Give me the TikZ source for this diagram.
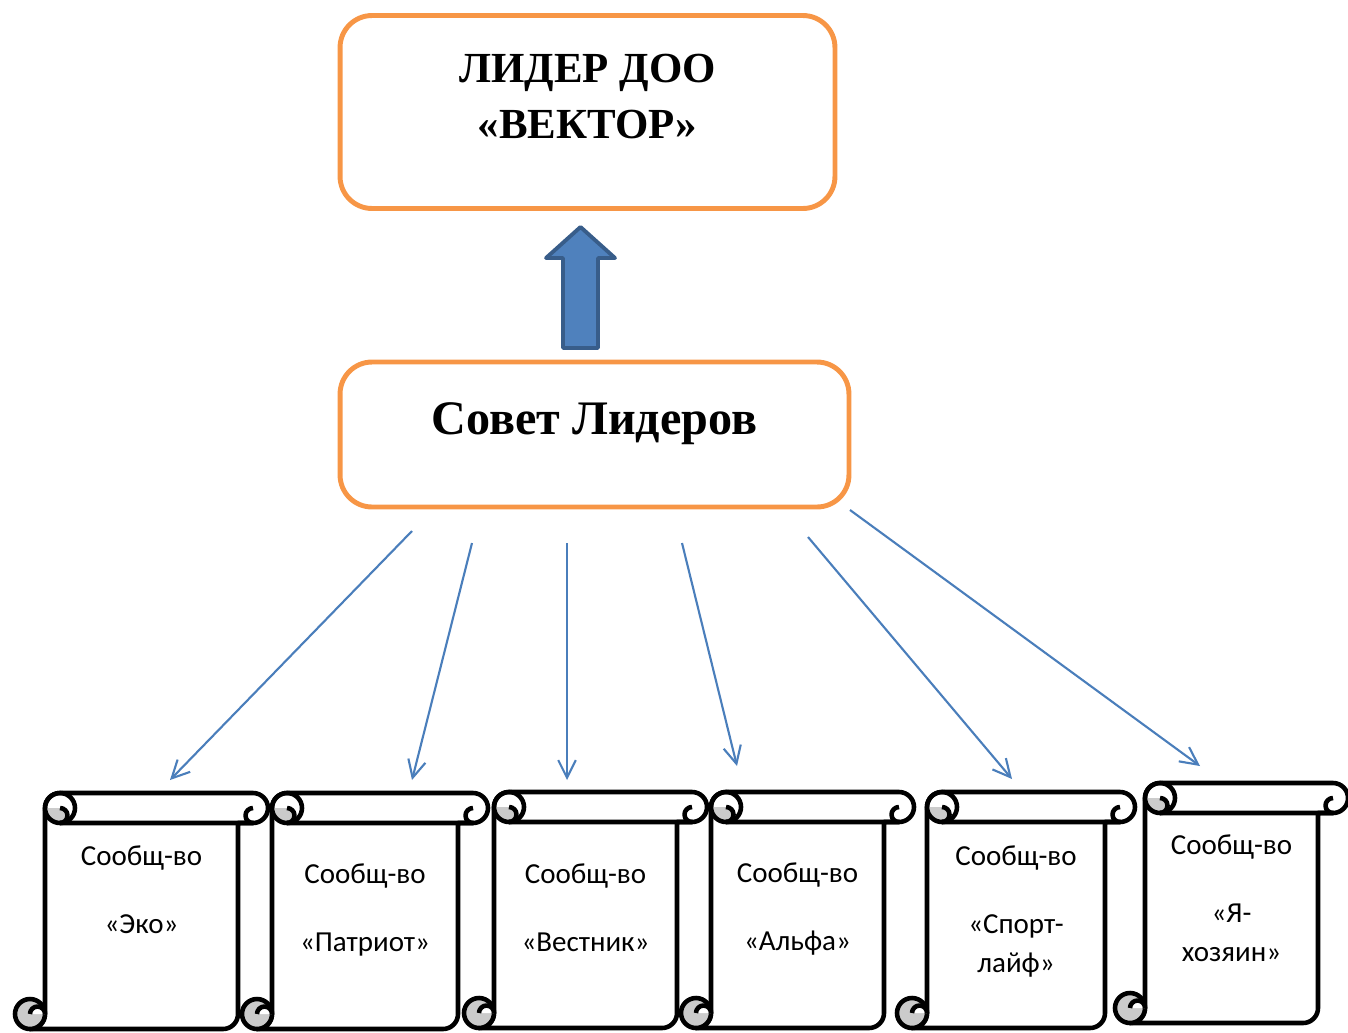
\documentclass[tikz,border=0pt]{standalone}
\usepackage{fontspec}
\setmainfont{Liberation Serif}
\newfontfamily\calibri{Carlito}
\usepackage{tikz}
\usetikzlibrary{positioning, arrows.meta}
\definecolor{leadorange}{HTML}{F79646}
\definecolor{linkblue}{HTML}{4A7EBB}
\definecolor{bigfill}{HTML}{4F81BD}
\definecolor{bigborder}{HTML}{385D8A}
\definecolor{curlgray}{HTML}{CBCBCB}
\tikzset{
leaderbox/.style={draw=leadorange, line width=2.8pt, rounded corners=0.64cm, inner sep=0pt}, % orange boxes
headtext/.style={font=\bfseries\fontsize{24.4}{32}\selectfont, align=center, inner sep=0pt},
link/.style={draw=linkblue, line width=1.2pt, -{Straight Barb[length=10pt,width=10pt]}}, % thin arrows
scrollline/.style={draw=black, line width=2.6pt, line join=round},
scrolltext/.style={font=\calibri\fontsize{16.5}{22.7}\selectfont, align=center, inner sep=0pt, anchor=north},
}
% scroll: name, left, right, top, bottom, text top, text
\newcommand\scrollbox[7]{%
  \draw[scrollline, fill=white]
    (#2+15,#5) arc[start angle=90, end angle=0, radius=15]
    -- (#2+30,#4+15) arc[start angle=180, end angle=270, radius=15]
    -- (#3-15,#4) arc[start angle=270, end angle=450, radius=15]
    -- (#3-30,#4+30) -- (#3-30,#5-15)
    arc[start angle=0, end angle=90, radius=15] -- cycle;
  % top curl
  \fill[curlgray] (#2+30,#4+15) arc[start angle=180, end angle=90, radius=15]
    arc[start angle=90, end angle=-90, radius=7.5] -- cycle;
  \draw[scrollline] (#2+45,#4+15) circle[radius=15];
  \draw[scrollline] (#2+45,#4+30) arc[start angle=90, end angle=-90, radius=7.5];
  \draw[scrollline] (#2+45,#4+30) -- (#3-15,#4+30)
    arc[start angle=90, end angle=270, radius=7.5];
  % bottom curl
  \filldraw[scrollline, fill=curlgray] (#2+15,#5-15) circle[radius=15];
  \filldraw[scrollline, fill=white] (#2+15,#5-15) arc[start angle=180, end angle=360, radius=7.5];
  \node[scrolltext] (#1) at ({(#2+#3)/2},#6) {#7};
}

\begin{document}
\begin{tikzpicture}[x=0.02cm, y=-0.02cm]
  \useasboundingbox (0,0) rectangle (1348,1032);
  \clip (0,0) rectangle (1348,1032);

  \node[leaderbox, minimum width=9.9cm, minimum height=3.86cm] (lider) at (587.5,112) {};
  \node[headtext] (vektor) at (587.5,96.5) {ЛИДЕР ДОО\\«ВЕКТОР»};
  \node[leaderbox, minimum width=10.18cm, minimum height=2.9cm, text height=0.6cm, text depth=0.6cm,
    font=\bfseries\fontsize{27.4}{32}\selectfont] (sovet) at (594.5,434.5) {Совет Лидеров};

  % big arrow up
  \draw[fill=bigfill, draw=bigborder, line width=2.2pt, line join=round]
    (580.5,227) -- (615,258) -- (598,258) -- (598,348) -- (563,348) -- (563,258) -- (546,258) -- cycle;

  \scrollbox{eko}{15}{268}{793}{1029}{845}{Сообщ-во\\[16pt]«Эко»}
  \scrollbox{patriot}{242}{488}{793}{1029}{863}{Сообщ-во\\[16pt]«Патриот»}
  \scrollbox{vestnik}{464}{707}{792}{1028}{863}{Сообщ-во\\[16pt]«Вестник»}
  \scrollbox{alfa}{681}{914}{792}{1028}{862}{Сообщ-во\\[16pt]«Альфа»}
  \scrollbox{sport}{897}{1135}{792}{1028}{845}{Сообщ-во\\[16pt]«Спорт-\\лайф»}
  \scrollbox{hozyain}{1115}{1348}{783}{1023}{834}{Сообщ-во\\[16pt]«Я-\\хозяин»}

  \coordinate (s1) at (412,531);  \coordinate (e1) at (170,780);
  \coordinate (s2) at (472,543);  \coordinate (e2) at (412,780);
  \coordinate (s3) at (567,543);  \coordinate (e3) at (567,780);
  \coordinate (s4) at (682,543);  \coordinate (e4) at (737,766);
  \coordinate (s5) at (808,537);  \coordinate (e5) at (1012,779);
  \coordinate (s6) at (850,510);  \coordinate (e6) at (1200,766);

  \draw[link] (s1) -- (e1);
  \draw[link] (s2) -- (e2);
  \draw[link] (s3) -- (e3);
  \draw[link] (s4) -- (e4);
  \draw[link] (s5) -- (e5);
  \draw[link] (s6) -- (e6);
\end{tikzpicture}
\end{document}
